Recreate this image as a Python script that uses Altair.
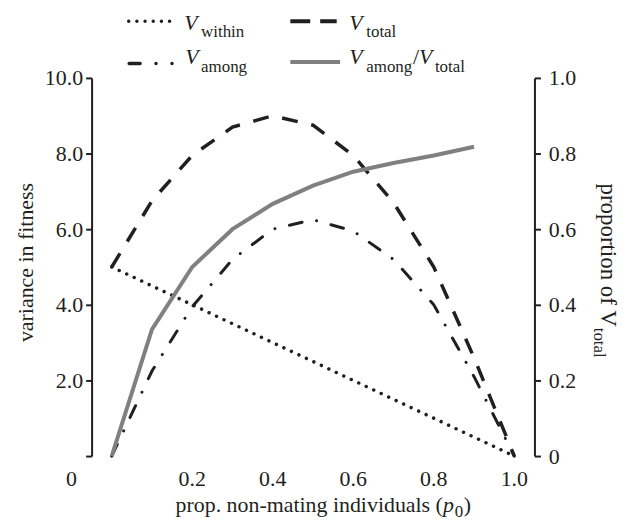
import altair as alt
import pandas as pd

# ---- data ----
p0 = [0.0, 0.1, 0.2, 0.3, 0.4, 0.5, 0.6, 0.7, 0.8, 0.9, 1.0]
v_within = [5.0, 4.5, 4.0, 3.5, 3.0, 2.5, 2.0, 1.5, 1.0, 0.5, 0.0]
v_among = [0.0, 2.25, 3.95, 5.2, 6.0, 6.25, 5.95, 5.2, 4.0, 2.1, 0.0]
v_total = [5.0, 6.75, 7.95, 8.7, 9.0, 8.75, 7.95, 6.7, 5.0, 2.6, 0.0]
ratio_p0 = [0.0, 0.1, 0.2, 0.3, 0.4, 0.5, 0.6, 0.7, 0.8, 0.9]
ratio = [0.0, 0.335, 0.50, 0.60, 0.667, 0.715, 0.752, 0.775, 0.795, 0.818]

x_tick_vals = [round(-0.05 + 0.1 * i, 2) for i in range(12)]
x_label_vals = [-0.1, 0.2, 0.4, 0.6, 0.8, 1.0]
x_label_text = ["0", "0.2", "0.4", "0.6", "0.8", "1.0"]
left_ticks = [0, 2, 4, 6, 8, 10]
right_ticks = [0, 0.2, 0.4, 0.6, 0.8, 1.0]

FONT = "Liberation Serif"
BLACK = "#231f20"
GRAY = "#808080"
FS = 22
SUB = 17

df = pd.DataFrame({"p0": p0, "V_within": v_within, "V_among": v_among, "V_total": v_total})
rdf = pd.DataFrame({"p0": ratio_p0, "ratio": ratio})
xlab = pd.DataFrame({"v": x_label_vals, "t": x_label_text})
one = pd.DataFrame({"k": [0]})

xscale = alt.Scale(domain=[-0.05, 1.05], nice=False, zero=False)
yscale = alt.Scale(domain=[0, 10], nice=False, zero=False)
rscale = alt.Scale(domain=[0, 1], nice=False, zero=False)

xaxis = alt.Axis(values=x_tick_vals, labels=False, title=None, ticks=True, tickSize=6,
                 tickWidth=2, tickColor=BLACK, domainColor=BLACK, domainWidth=2, grid=False)

left_axis = alt.Axis(orient="left", values=left_ticks,
                     labelExpr="datum.value == 0 ? '' : format(datum.value, '.1f')",
                     tickSize=6, tickWidth=2, tickColor=BLACK, domainColor=BLACK, domainWidth=2,
                     labelFont=FONT, labelFontSize=FS, labelColor=BLACK, labelPadding=3,
                     title="variance in fitness", titleFont=FONT, titleFontSize=FS,
                     titleFontWeight="normal", titleColor=BLACK, titleAngle=270,
                     titleX=-59, titleY=185, titleAlign="center", titleBaseline="alphabetic",
                     grid=False)

right_axis = alt.Axis(orient="right", values=right_ticks,
                      labelExpr="datum.value == 0 ? '0' : format(datum.value, '.1f')",
                      tickSize=6, tickWidth=2, tickColor=BLACK, domainColor=BLACK, domainWidth=2,
                      labelFont=FONT, labelFontSize=FS, labelColor=BLACK, labelPadding=8,
                      title=None, grid=False)

base = alt.Chart(df)

within = base.mark_line(color=BLACK, strokeWidth=3.5, strokeDash=[0.01, 8.3], strokeCap="round").encode(
    x=alt.X("p0:Q", scale=xscale, axis=xaxis),
    y=alt.Y("V_within:Q", scale=yscale, axis=left_axis),
)
among = base.mark_line(color=BLACK, strokeWidth=3, strokeDash=[13, 15, 0.01, 15], strokeCap="round").encode(
    x=alt.X("p0:Q", scale=xscale, axis=None),
    y=alt.Y("V_among:Q", scale=yscale, axis=None),
)
total = base.mark_line(color=BLACK, strokeWidth=3.5, strokeDash=[16, 14], strokeCap="butt").encode(
    x=alt.X("p0:Q", scale=xscale, axis=None),
    y=alt.Y("V_total:Q", scale=yscale, axis=None),
)
ratio_line = alt.Chart(rdf).mark_line(color=GRAY, strokeWidth=4).encode(
    x=alt.X("p0:Q", scale=xscale, axis=None),
    y=alt.Y("ratio:Q", scale=rscale, axis=right_axis),
)

xlabels = alt.Chart(xlab).mark_text(font=FONT, fontSize=FS, color=BLACK, align="center",
                                     baseline="alphabetic").encode(
    x=alt.X("v:Q", scale=xscale, axis=None),
    y=alt.value(410),
    text="t:N",
)


def txt(s, x, y, size=FS, italic=False, align="left", angle=0):
    kw = dict(text=s, font=FONT, fontSize=size, color=BLACK, align=align, baseline="alphabetic")
    if italic:
        kw["fontStyle"] = "italic"
    if angle:
        kw["angle"] = angle
    return alt.Chart(one).mark_text(**kw).encode(x=alt.value(x), y=alt.value(y))


def rule(x1, x2, y, color=BLACK, width=3.5, dash=None, cap="butt"):
    kw = dict(color=color, strokeWidth=width, strokeCap=cap)
    if dash:
        kw["strokeDash"] = dash
    return alt.Chart(one).mark_rule(**kw).encode(x=alt.value(x1), x2=alt.value(x2), y=alt.value(y))


deco = [
    # x title
    txt("prop. non-mating individuals (", 353, 436, align="right"),
    txt("p", 353, 436, italic=True),
    txt("0", 365, 441, size=SUB),
    txt(")", 374, 436),
    # right title (rotated)
    txt("proportion of V", 512, 250, size=23, align="right", angle=90),
    txt("total", 505, 251, size=SUB, angle=90),
    # legend lines
    rule(37.3, 79, -57, dash=[0.01, 8.2], cap="round"),
    rule(37.75, 84, -14.5, dash=[11, 16, 0.01, 16, 0.01, 100], cap="round"),
    rule(199.7, 246.3, -57, width=4, dash=[20, 10]),
    rule(199.7, 249.7, -16, color=GRAY, width=4),
    # legend texts
    txt("V", 93, -48.5, italic=True),
    txt("within", 110, -41.5, size=SUB),
    txt("V", 94, -14, italic=True),
    txt("among", 110, -6, size=SUB),
    txt("V", 259, -48.5, italic=True),
    txt("total", 276, -41.5, size=SUB),
    txt("V", 259, -14, italic=True),
    txt("among", 276, -6, size=SUB),
    txt("/", 323, -14),
    txt("V", 329, -14, italic=True),
    txt("total", 345, -6, size=SUB),
]

chart = alt.layer(within, among, total, ratio_line, xlabels, *deco).resolve_scale(
    y="independent"
).properties(
    width=445,
    height=380,
    autosize=alt.AutoSizeParams(type="none"),
    padding={"left": 84, "top": 69, "right": 92, "bottom": 66},
    background="white",
).configure_view(stroke=None)

chart.save("out.html", embed_options={"renderer": "svg", "actions": False})
